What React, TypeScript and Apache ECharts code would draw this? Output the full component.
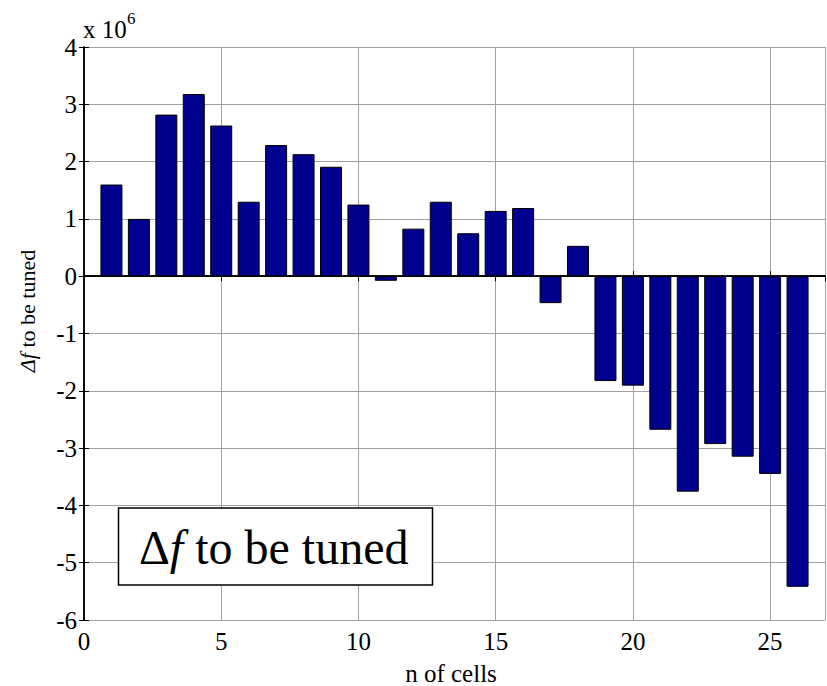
import React, { useEffect, useRef } from "react";
import * as echarts from "echarts";

// Cell index (x) and frequency offset to be tuned, in units of 1e6
const cells = [1, 2, 3, 4, 5, 6, 7, 8, 9, 10, 11, 12, 13, 14, 15, 16, 17, 18, 19, 20, 21, 22, 23, 24, 25, 26];
const deltaF = [
  1.6, 1.0, 2.82, 3.18, 2.63, 1.3, 2.29, 2.13, 1.91, 1.25, -0.08, 0.83, 1.3,
  0.75, 1.14, 1.19, -0.47, 0.53, -1.83, -1.91, -2.68, -3.76, -2.93, -3.15, -3.45, -5.42,
];
const xTicks = [0, 5, 10, 15, 20, 25];
const yTicks = [-6, -5, -4, -3, -2, -1, 0, 1, 2, 3, 4];

const FONT = "Liberation Serif, Times New Roman, serif";

export default function App() {
  const ref = useRef<HTMLDivElement>(null);

  useEffect(() => {
    if (!ref.current) return;
    const chart = echarts.init(ref.current, undefined, { renderer: "svg" });

    const frame = { show: true, lineStyle: { color: "#000", width: 1.5 } };
    const innerTick = { show: true, inside: true, length: 5, lineStyle: { color: "#000", width: 1 } };
    const grid = { show: true, lineStyle: { color: "#a0a0a0", width: 1, type: "solid" as const } };

    chart.setOption({
      animation: false,
      backgroundColor: "#fff",
      textStyle: { fontFamily: FONT },
      grid: { left: 84, right: 2, top: 47, bottom: 66, containLabel: false },
      xAxis: [
        {
          type: "value",
          min: 0,
          max: 27,
          interval: 5,
          axisLine: frame,
          axisTick: innerTick,
          splitLine: grid,
          axisLabel: {
            color: "#000",
            fontFamily: FONT,
            fontSize: 25,
            margin: 9,
            showMaxLabel: false,
            formatter: (v: number) => (xTicks.includes(v) ? String(v) : ""),
          },
        },
        {
          type: "value",
          position: "top",
          min: 0,
          max: 27,
          interval: 5,
          axisLine: frame,
          axisTick: innerTick,
          axisLabel: { show: false },
          splitLine: { show: false },
        },
      ],
      yAxis: [
        {
          type: "value",
          min: -6,
          max: 4,
          interval: 1,
          axisLine: frame,
          axisTick: innerTick,
          splitLine: grid,
          axisLabel: {
            color: "#000",
            fontFamily: FONT,
            fontSize: 25,
            margin: 7,
            formatter: (v: number) => (yTicks.includes(v) ? String(v) : ""),
          },
        },
        {
          type: "value",
          position: "right",
          min: -6,
          max: 4,
          interval: 1,
          axisLine: frame,
          axisTick: innerTick,
          axisLabel: { show: false },
          splitLine: { show: false },
        },
      ],
      series: [
        {
          type: "bar",
          data: cells.map((c, i) => [c, deltaF[i]]),
          barWidth: 22,
          itemStyle: { color: "#00008F", borderColor: "#000", borderWidth: 1 },
          markLine: {
            silent: true,
            symbol: "none",
            label: { show: false },
            lineStyle: { color: "#000", width: 1.2, type: "solid" },
            data: [{ yAxis: 0 }],
          },
        },
      ],
      graphic: [
        {
          type: "text",
          x: 83,
          y: 29,
          style: { text: "x 10", fontFamily: FONT, fontSize: 25, fill: "#000", align: "left", verticalAlign: "middle" },
        },
        {
          type: "text",
          x: 127,
          y: 18,
          style: { text: "6", fontFamily: FONT, fontSize: 17, fill: "#000", align: "left", verticalAlign: "middle" },
        },
        {
          type: "text",
          x: 27,
          y: 311,
          rotation: Math.PI / 2,
          style: {
            text: "{i|\u0394f}{n| to be tuned}",
            align: "center",
            verticalAlign: "middle",
            rich: {
              i: { fontFamily: FONT, fontSize: 22, fontStyle: "italic", fill: "#000" },
              n: { fontFamily: FONT, fontSize: 22, fill: "#000" },
            },
          },
        },
        {
          type: "text",
          x: 451,
          y: 673,
          style: { text: "n of cells", fontFamily: FONT, fontSize: 25, fill: "#000", align: "center", verticalAlign: "middle" },
        },
        {
          type: "rect",
          shape: { x: 118.5, y: 508, width: 314, height: 77 },
          style: { fill: "#fff", stroke: "#000", lineWidth: 1.5 },
          z: 100,
        },
        {
          type: "text",
          x: 139,
          y: 547,
          z: 101,
          style: {
            text: "{d|\u0394}{f|f}{n| to be tuned}",
            align: "left",
            verticalAlign: "middle",
            rich: {
              d: { fontFamily: FONT, fontSize: 48, fill: "#000" },
              f: { fontFamily: FONT, fontSize: 48, fontStyle: "italic", fill: "#000" },
              n: { fontFamily: FONT, fontSize: 48, fill: "#000" },
            },
          },
        },
      ],
    });

    return () => chart.dispose();
  }, []);

  return (
    <div
      ref={ref}
      style={{ position: "absolute", left: 0, top: 0, width: 827, height: 686, background: "#fff" }}
    />
  );
}
